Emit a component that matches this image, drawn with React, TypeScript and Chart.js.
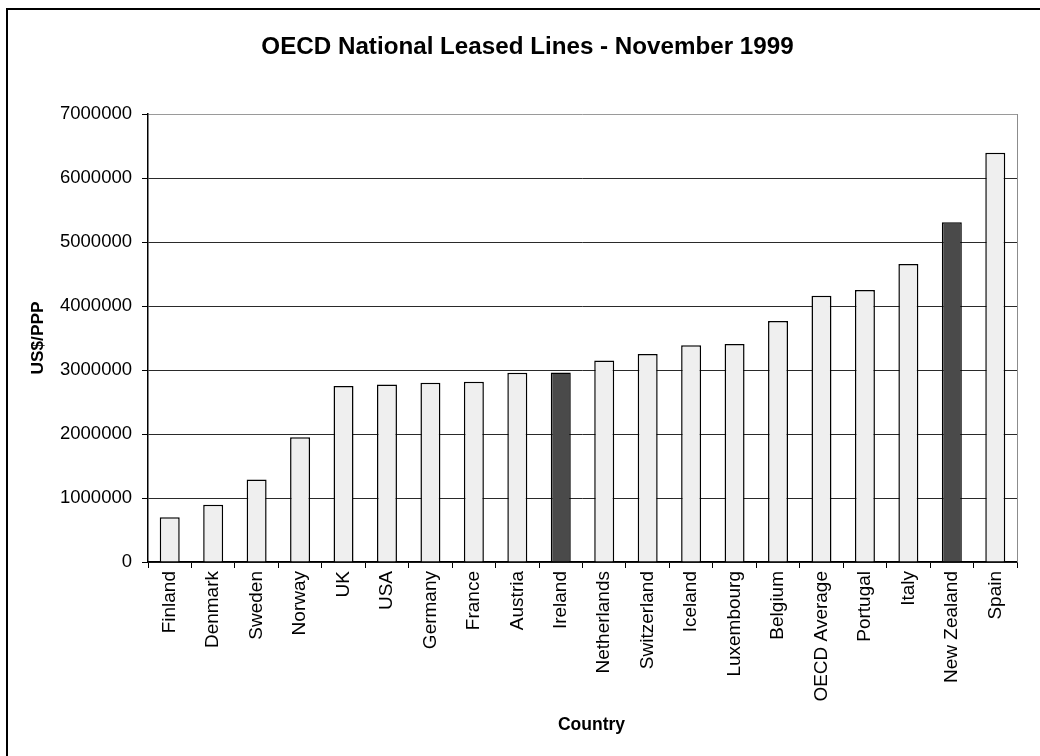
import React, { useEffect, useRef } from "react";
import { Chart, registerables } from "chart.js";

Chart.register(...registerables);

const countries = [
  "Finland", "Denmark", "Sweden", "Norway", "UK", "USA", "Germany", "France",
  "Austria", "Ireland", "Netherlands", "Switzerland", "Iceland", "Luxembourg",
  "Belgium", "OECD Average", "Portugal", "Italy", "New Zealand", "Spain",
];
const values = [
  700000, 895000, 1290000, 1950000, 2750000, 2775000, 2800000, 2815000,
  2957000, 2960000, 3150000, 3250000, 3385000, 3405000, 3765000, 4160000,
  4250000, 4655000, 5310000, 6395000,
];
const highlighted = ["Ireland", "New Zealand"];
const yMax = 7000000;
const yStep = 1000000;
const titleText = "OECD National Leased Lines - November 1999";
const xTitle = "Country";
const yTitle = "US$/PPP";

const FONT = "'Liberation Sans', Arial, sans-serif";

export default function App() {
  const ref = useRef<HTMLCanvasElement>(null);

  useEffect(() => {
    if (!ref.current) return;
    const framePlugin = {
      id: "frame",
      afterDraw(chart: any) {
        const { ctx, chartArea } = chart;
        ctx.save();
        // plot-area right border
        ctx.strokeStyle = "#8c8c8c";
        ctx.lineWidth = 1;
        ctx.beginPath();
        ctx.moveTo(Math.round(chartArea.right) + 0.5, chartArea.top);
        ctx.lineTo(Math.round(chartArea.right) + 0.5, chartArea.bottom);
        ctx.stroke();
        // outer frame
        ctx.strokeStyle = "#000";
        ctx.lineWidth = 2;
        ctx.beginPath();
        ctx.moveTo(7, 760);
        ctx.lineTo(7, 9);
        ctx.lineTo(1045, 9);
        ctx.stroke();
        // chart title and x-axis title
        ctx.fillStyle = "#000";
        ctx.textAlign = "center";
        ctx.textBaseline = "middle";
        ctx.font = `bold 24.2px ${FONT}`;
        ctx.fillText(titleText, 527.5, 47);
        ctx.font = `bold 17.5px ${FONT}`;
        ctx.fillText(xTitle, 591.5, 725);
        ctx.restore();
      },
    };

    const chart = new Chart(ref.current, {
      type: "bar",
      data: {
        labels: countries,
        datasets: [
          {
            data: values,
            backgroundColor: countries.map((c) =>
              highlighted.includes(c) ? "#4a4a4a" : "#efefef"
            ),
            borderColor: "#000",
            borderWidth: 1.5,
            barPercentage: 0.46,
            categoryPercentage: 1,
          },
        ],
      },
      options: {
        responsive: false,
        animation: false,
        layout: { padding: { left: 0, right: 23, top: 114, bottom: 0 } },
        plugins: {
          legend: { display: false },
          tooltip: { enabled: false },
          title: { display: false },
        },
        scales: {
          x: {
            offset: true,
            grid: {
              offset: true,
              drawOnChartArea: false,
              drawTicks: true,
              tickLength: 6,
              tickColor: "#000",
              color: "#000",
            },
            border: { color: "#000", width: 1.5 },
            ticks: {
              color: "#000",
              font: { family: FONT, size: 19 },
              minRotation: 90,
              maxRotation: 90,
              autoSkip: false,
              padding: 3,
            },
            title: { display: false, text: xTitle },
            afterFit(scale: any) {
              scale.height = 194;
            },
          },
          y: {
            min: 0,
            max: yMax,
            grid: {
              color: (ctx: any) =>
                ctx.tick && ctx.tick.value === yMax ? "#9a9a9a" : "#2a2a2a",
              lineWidth: 1,
              tickLength: 6,
              tickColor: "#000",
            },
            border: { color: "#000", width: 1.5 },
            ticks: {
              stepSize: yStep,
              color: "#000",
              font: { family: FONT, size: 18.5 },
              padding: 10,
              callback: (v: any) => String(v),
            },
            title: {
              display: true,
              text: yTitle,
              color: "#000",
              font: { family: FONT, size: 17.3, weight: "bold" },
              padding: { top: 27.6, bottom: 0 },
            },
            afterFit(scale: any) {
              scale.width = 148;
            },
          },
        },
      },
      plugins: [framePlugin],
    });
    return () => chart.destroy();
  }, []);

  return (
    <div style={{ position: "fixed", left: 0, top: 0, width: 1040, height: 756, background: "#fff" }}>
      <canvas ref={ref} width={1040} height={756} style={{ display: "block" }} />
    </div>
  );
}
